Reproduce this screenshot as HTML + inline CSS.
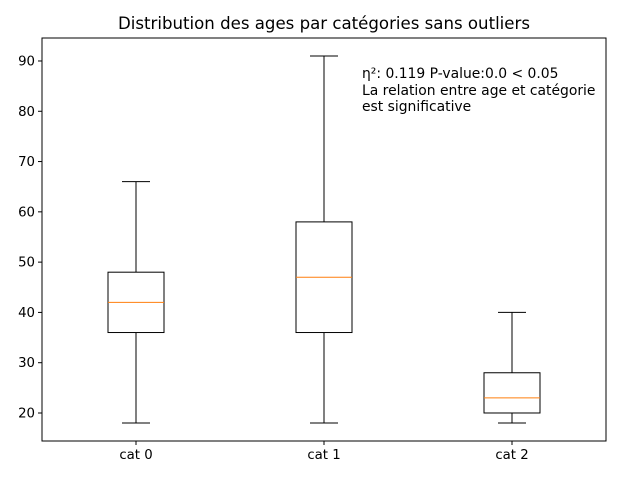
<!DOCTYPE html>
<html><head><meta charset="utf-8"><style>
body{margin:0;background:#fff;}
svg{display:block;font-family:"DejaVu Sans","Liberation Sans",sans-serif;}
</style></head><body>
<svg id="chart" width="640" height="480">
<rect x="0" y="0" width="640" height="480" fill="#fff"/>
<text x="324" y="29" text-anchor="middle" font-size="16.6">Distribution des ages par catégories sans outliers</text>
<g id="marks"></g>
<rect x="42" y="38" width="564" height="403" fill="none" stroke="#000" stroke-width="1"/>
<g font-size="13.9">
<text x="362" y="78">η²: 0.119 P-value:0.0 &lt; 0.05</text>
<text x="362" y="95">La relation entre age et catégorie</text>
<text x="362" y="111">est significative</text>
</g>
</svg>
<script>
const categories=["cat 0","cat 1","cat 2"];
const mins=[18,18,18];
const q1s=[36,36,20];
const medians=[42,47,23];
const q3s=[48,58,28];
const maxs=[66,91,40];
const yTicks=[20,30,40,50,60,70,80,90];
const NS="http://www.w3.org/2000/svg";
const L=42,R=606,T=38,B=441,yMin=14.43,yMax=94.57;
const y=v=>B-(v-yMin)/(yMax-yMin)*(B-T);
const x=i=>L+(R-L)*(i+0.5)/categories.length;
const g=document.getElementById('marks');
function mk(tag,a){const e=document.createElementNS(NS,tag);for(const k in a)e.setAttribute(k,a[k]);g.appendChild(e);return e;}
yTicks.forEach(t=>{
 const l=mk('line',{x1:L-4,x2:L,y1:y(t),y2:y(t),stroke:'#000'});
 
 
 const tx=mk('text',{x:L-7,y:y(t)+4.5,'text-anchor':'end','font-size':13.3});
 tx.textContent=t;
 
 
});
categories.forEach((c,i)=>{
 const cx=x(i),bw=56,cw=28;
 const grp=document.createElementNS(NS,'g');g.appendChild(grp);
 
 
 const add=(tag,a)=>{const e=document.createElementNS(NS,tag);for(const k in a)e.setAttribute(k,a[k]);grp.appendChild(e);return e;};
 add('line',{x1:cx,x2:cx,y1:y(q3s[i]),y2:y(maxs[i]),stroke:'#000'});
 add('line',{x1:cx,x2:cx,y1:y(q1s[i]),y2:y(mins[i]),stroke:'#000'});
 add('line',{x1:cx-cw/2,x2:cx+cw/2,y1:y(maxs[i]),y2:y(maxs[i]),stroke:'#000'});
 add('line',{x1:cx-cw/2,x2:cx+cw/2,y1:y(mins[i]),y2:y(mins[i]),stroke:'#000'});
 add('rect',{x:cx-bw/2,y:y(q3s[i]),width:bw,height:y(q1s[i])-y(q3s[i]),fill:'none',stroke:'#000'});
 add('line',{x1:cx-bw/2,x2:cx+bw/2,y1:y(medians[i]),y2:y(medians[i]),stroke:'#ff7f0e'});
 const t=mk('line',{x1:cx,x2:cx,y1:B,y2:B+4,stroke:'#000'});
 
 
 const tx=mk('text',{x:cx,y:B+18,'text-anchor':'middle','font-size':13.3});
 tx.textContent=c;
 
 
});
</script>
</body></html>
